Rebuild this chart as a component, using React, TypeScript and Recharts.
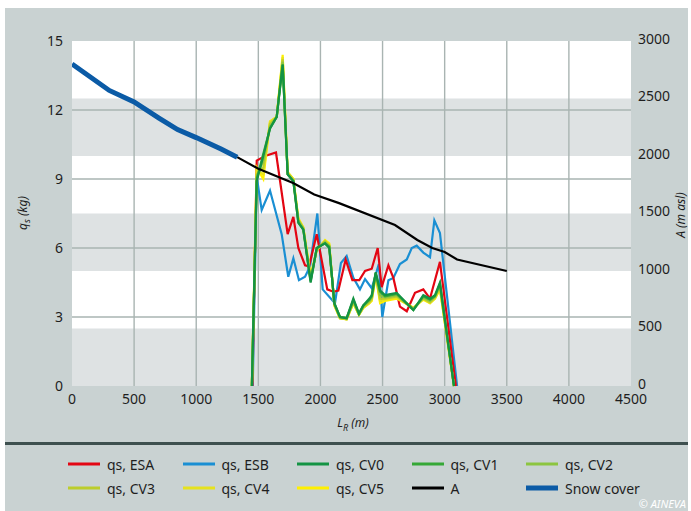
import React from 'react';
import {
  LineChart,
  Line,
  XAxis,
  YAxis,
  ReferenceArea,
  ReferenceLine,
} from 'recharts';

// run-out distance ticks and axis ticks
const X_TICKS = [0, 500, 1000, 1500, 2000, 2500, 3000, 3500, 4000, 4500];
const Q_TICKS = [0, 3, 6, 9, 12, 15];
const A_TICKS = [0, 500, 1000, 1500, 2000, 2500, 3000];
const A_BANDS = [[0, 500], [1000, 1500], [2000, 2500]];

// qs, ESA
const ESA_L = [1452, 1487, 1554, 1642, 1736, 1782, 1822, 1876, 1908, 1970, 2055, 2104, 2144, 2203, 2257, 2313, 2359, 2413, 2461, 2493, 2547, 2587, 2640, 2695, 2761, 2828, 2882, 2962, 3090];
const ESA_Q = [0, 9.8, 10.0, 10.15, 6.6, 7.35, 6.0, 5.25, 5.2, 6.6, 4.2, 4.1, 4.15, 5.5, 4.6, 4.6, 5.0, 5.1, 6.0, 4.3, 5.25, 4.7, 3.45, 3.25, 4.05, 4.2, 3.8, 5.4, 0];

// qs, ESB
const ESB_L = [1455, 1487, 1527, 1594, 1688, 1741, 1782, 1827, 1876, 1916, 1975, 2018, 2117, 2165, 2211, 2265, 2318, 2359, 2413, 2470, 2498, 2547, 2587, 2640, 2695, 2735, 2775, 2828, 2882, 2917, 2962, 3100];
const ESB_Q = [0, 9.1, 7.65, 8.5, 6.6, 4.75, 5.55, 4.6, 4.75, 5.2, 7.5, 4.2, 3.6, 5.35, 5.65, 4.7, 4.2, 4.65, 4.25, 5.3, 3.0, 4.6, 4.7, 5.3, 5.5, 6.0, 6.1, 5.8, 5.6, 7.2, 6.65, 0];

// qs, CV0..CV5 (shared distances)
const CV_L = [1448, 1487, 1540, 1594, 1648, 1696, 1736, 1782, 1822, 1862, 1921, 1970, 2037, 2071, 2112, 2157, 2211, 2265, 2310, 2345, 2394, 2413, 2445, 2480, 2520, 2614, 2748, 2828, 2882, 2922, 2962, 3075];
const CV0 = [0, 8.9, 10.0, 11.2, 11.7, 13.95, 9.2, 8.9, 7.1, 6.8, 4.5, 6.0, 6.2, 6.0, 3.6, 3.0, 2.95, 3.8, 3.15, 3.5, 3.8, 3.95, 4.95, 4.15, 3.95, 4.05, 3.3, 3.95, 3.8, 3.95, 4.5, 0];
const CV1 = [0, 9.0, 10.1, 11.2, 11.7, 14.0, 9.2, 8.9, 7.1, 6.8, 4.55, 6.0, 6.2, 6.05, 3.6, 3.0, 2.95, 3.75, 3.15, 3.5, 3.75, 3.9, 4.9, 4.1, 3.9, 4.0, 3.3, 3.9, 3.75, 3.9, 4.45, 0];
const CV2 = [0, 9.1, 9.8, 11.3, 11.7, 14.1, 9.2, 8.95, 7.2, 6.85, 4.6, 5.95, 6.25, 6.1, 3.55, 3.0, 2.95, 3.7, 3.1, 3.45, 3.7, 3.85, 4.9, 3.95, 3.85, 3.95, 3.35, 3.85, 3.7, 3.9, 4.4, 0];
const CV3 = [0, 9.2, 9.5, 11.4, 11.7, 14.2, 9.25, 8.95, 7.2, 6.85, 4.65, 5.95, 6.3, 6.1, 3.55, 2.95, 2.9, 3.65, 3.1, 3.45, 3.65, 3.8, 4.85, 3.8, 3.8, 3.9, 3.35, 3.8, 3.65, 3.85, 4.3, 0];
const CV4 = [0, 9.4, 9.2, 11.5, 11.7, 14.3, 9.3, 9.0, 7.25, 6.9, 4.7, 5.9, 6.3, 6.15, 3.5, 2.95, 2.9, 3.6, 3.1, 3.4, 3.6, 3.75, 4.8, 3.7, 3.75, 3.85, 3.4, 3.8, 3.6, 3.8, 4.25, 0];
const CV5 = [0, 9.5, 9.0, 11.5, 11.7, 14.4, 9.3, 9.0, 7.3, 6.9, 4.8, 5.9, 6.35, 6.2, 3.5, 2.95, 2.9, 3.6, 3.1, 3.4, 3.6, 3.7, 4.8, 3.6, 3.7, 3.8, 3.4, 3.75, 3.6, 3.8, 4.2, 0];

// altitude A (m asl) along the path
const A_L = [1330, 1500, 1780, 1950, 2150, 2600, 2780, 2900, 3000, 3100, 3500];
const A_ALT = [1990, 1890, 1765, 1665, 1590, 1400, 1270, 1200, 1165, 1100, 1000];

// snow cover part of the path
const SNOW_L = [0, 300, 500, 700, 850, 1000, 1200, 1330];
const SNOW_ALT = [2800, 2570, 2470, 2330, 2230, 2160, 2060, 1990];

const zip = (xs: number[], ys: number[], key: string) => xs.map((x, i) => ({ L: x, [key]: ys[i] }));

const QS_SERIES = [
  { name: 'qs, ESB', L: ESB_L, q: ESB_Q, color: '#1a8fd3' },
  { name: 'qs, ESA', L: ESA_L, q: ESA_Q, color: '#e30613' },
  { name: 'qs, CV5', L: CV_L, q: CV5, color: '#fff000' },
  { name: 'qs, CV4', L: CV_L, q: CV4, color: '#e6e21e' },
  { name: 'qs, CV3', L: CV_L, q: CV3, color: '#bccd2c' },
  { name: 'qs, CV2', L: CV_L, q: CV2, color: '#8cc540' },
  { name: 'qs, CV1', L: CV_L, q: CV1, color: '#35a836' },
  { name: 'qs, CV0', L: CV_L, q: CV0, color: '#139343' },
];

const LEGEND = [
  { name: 'qs, ESA', color: '#e30613', w: 3 },
  { name: 'qs, ESB', color: '#1a8fd3', w: 3 },
  { name: 'qs, CV0', color: '#139343', w: 3 },
  { name: 'qs, CV1', color: '#35a836', w: 3 },
  { name: 'qs, CV2', color: '#8cc540', w: 3 },
  { name: 'qs, CV3', color: '#bccd2c', w: 3 },
  { name: 'qs, CV4', color: '#e6e21e', w: 3 },
  { name: 'qs, CV5', color: '#fff000', w: 3 },
  { name: 'A', color: '#000000', w: 3 },
  { name: 'Snow cover', color: '#0b5ba6', w: 5 },
];

const FONT = '"Noto Sans", "Open Sans", sans-serif';
const tickStyle = { fontSize: 14, fill: '#1e1e1e', fontFamily: FONT };
const GRID = '#a9b4b2';

export default function App() {
  return (
    <div
      style={{
        position: 'absolute',
        left: 5,
        top: 8,
        width: 683,
        height: 503,
        background: '#c9d2d2',
        fontFamily: FONT,
        overflow: 'hidden',
      }}
    >
      <LineChart width={683} height={435} margin={{ top: 33, right: 0, bottom: 0, left: 0 }}>
        <XAxis
          type="number"
          dataKey="L"
          domain={[0, 4500]}
          ticks={X_TICKS}
          interval={0}
          allowDataOverflow
          height={57}
          tickLine={false}
          axisLine={false}
          tickSize={0}
          tickMargin={8}
          tick={tickStyle}
        />
        <YAxis
          yAxisId="left"
          domain={[0, 15]}
          ticks={Q_TICKS}
          interval={0}
          width={67}
          tickLine={false}
          axisLine={false}
          tickSize={0}
          tickMargin={9}
          tick={tickStyle}
        />
        <YAxis
          yAxisId="right"
          orientation="right"
          domain={[0, 3000]}
          ticks={A_TICKS}
          interval={0}
          width={57}
          tickLine={false}
          axisLine={false}
          tickSize={0}
          tickMargin={7}
          tick={{ ...tickStyle, dy: -2 }}
        />
        <ReferenceArea yAxisId="right" y1={0} y2={3000} fill="#ffffff" fillOpacity={1} stroke="none" />
        {A_BANDS.map(([a, b]) => (
          <ReferenceArea key={`band-${a}`} yAxisId="right" y1={a} y2={b} fill="#dee2e3" fillOpacity={1} stroke="none" />
        ))}
        {Q_TICKS.slice(1, -1).map((t) => (
          <ReferenceLine key={`hy-${t}`} yAxisId="left" y={t} stroke={GRID} strokeWidth={1.4} />
        ))}
        {X_TICKS.slice(1, -1).map((t) => (
          <ReferenceLine key={`vx-${t}`} yAxisId="left" x={t} stroke={GRID} strokeWidth={1.4} />
        ))}
        {QS_SERIES.map((s) => (
          <Line
            key={s.name}
            yAxisId="left"
            data={zip(s.L, s.q, 'q')}
            dataKey="q"
            name={s.name}
            stroke={s.color}
            strokeWidth={2.2}
            dot={false}
            isAnimationActive={false}
          />
        ))}
        <Line
          yAxisId="right"
          data={zip(A_L, A_ALT, 'alt')}
          dataKey="alt"
          name="A"
          stroke="#000"
          strokeWidth={2.2}
          dot={false}
          isAnimationActive={false}
        />
        <Line
          yAxisId="right"
          data={zip(SNOW_L, SNOW_ALT, 'alt')}
          dataKey="alt"
          name="Snow cover"
          stroke="#0b5ba6"
          strokeWidth={5}
          dot={false}
          isAnimationActive={false}
        />
      </LineChart>

      {/* axis titles */}
      <div
        style={{
          position: 'absolute',
          left: 17,
          top: 205,
          transform: 'translate(-50%, -50%) rotate(-90deg)',
          fontSize: 12,
          lineHeight: '13px',
          fontStyle: 'italic',
          color: '#1e1e1e',
          whiteSpace: 'nowrap',
        }}
      >
        q<sub style={{ fontSize: 9, lineHeight: 0 }}>s</sub> (kg)
      </div>
      <div
        style={{
          position: 'absolute',
          left: 675,
          top: 207,
          transform: 'translate(-50%, -50%) rotate(-90deg)',
          fontSize: 12,
          lineHeight: '13px',
          fontStyle: 'italic',
          color: '#1e1e1e',
          whiteSpace: 'nowrap',
        }}
      >
        A (m asl)
      </div>
      <div
        style={{
          position: 'absolute',
          left: 348,
          top: 416,
          transform: 'translate(-50%, -50%)',
          fontSize: 12,
          fontStyle: 'italic',
          color: '#1e1e1e',
          whiteSpace: 'nowrap',
        }}
      >
        L<sub style={{ fontSize: 9 }}>R</sub> (m)
      </div>

      <div style={{ position: 'absolute', left: 0, top: 434, width: 683, height: 3, background: '#3e504f' }} />

      {/* legend */}
      {LEGEND.map((item, i) => {
        const col = i % 5;
        const row = Math.floor(i / 5);
        return (
          <div
            key={item.name}
            style={{
              position: 'absolute',
              left: 63 + col * 114.5,
              top: 456 + row * 24,
              transform: 'translateY(-50%)',
              display: 'flex',
              alignItems: 'center',
              fontSize: 14,
              color: '#1e1e1e',
              whiteSpace: 'nowrap',
            }}
          >
            <span style={{ display: 'inline-block', width: 32, height: item.w, background: item.color, marginRight: 7 }} />
            {item.name}
          </div>
        );
      })}
      <div
        style={{
          position: 'absolute',
          right: 2,
          top: 490,
          fontSize: 11,
          lineHeight: '12px',
          fontStyle: 'italic',
          color: '#ffffff',
          whiteSpace: 'nowrap',
        }}
      >
        © AINEVA
      </div>
    </div>
  );
}
